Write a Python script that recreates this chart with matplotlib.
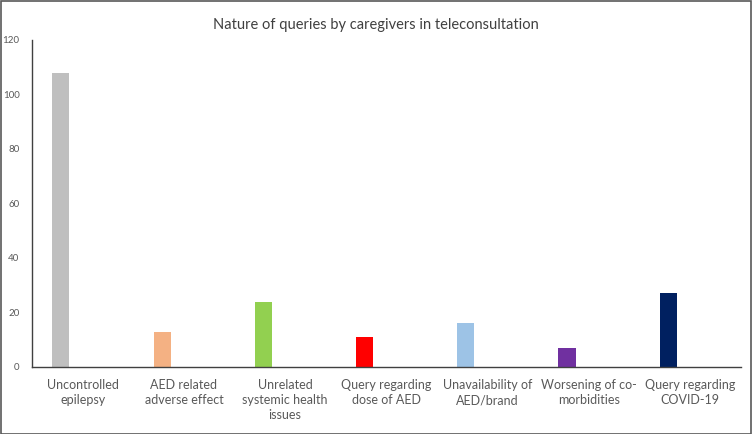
import matplotlib.pyplot as plt
from matplotlib.patches import Rectangle
import numpy as np

categories = [
    "Uncontrolled\nepilepsy",
    "AED related\nadverse effect",
    "Unrelated\nsystemic health\nissues",
    "Query regarding\ndose of AED",
    "Unavailability of\nAED/brand",
    "Worsening of co-\nmorbidities",
    "Query regarding\nCOVID-19",
]
counts = [108, 13, 24, 11, 16, 7, 27]
colors = ["#BFBFBF", "#F4B183", "#92D050", "#FF0000", "#9DC3E6", "#7030A0", "#002060"]
yticks = [0, 20, 40, 60, 80, 100, 120]

plt.rcParams['font.family'] = ['Lato', 'DejaVu Sans']
text_col = "#595959"

fig = plt.figure(figsize=(7.52, 4.34), dpi=100)
ax = fig.add_axes([0.0426, 0.1544, 0.9424, 0.7536])

x = np.arange(len(categories))
ax.bar(x - 0.215, counts, width=0.17, color=colors)

ax.set_xlim(-0.5, len(categories) - 0.5)
ax.set_ylim(0, 120)
ax.set_yticks(yticks)
ax.set_xticks(x)
ax.set_xticklabels(categories, fontsize=9, color=text_col, linespacing=1.3)
ax.tick_params(axis='y', labelsize=7, labelcolor=text_col, length=0, pad=9)
ax.tick_params(axis='x', length=0, pad=9)

for s in ['top', 'right']:
    ax.spines[s].set_visible(False)
for s in ['left', 'bottom']:
    ax.spines[s].set_color("#404040")
    ax.spines[s].set_linewidth(1.0)

fig.text(0.5, 0.942, "Nature of queries by caregivers in teleconsultation",
         ha='center', va='center', fontsize=10.5, color="#404040")

# outer frame
fig.patches.append(Rectangle((0.001, 0.001), 0.998, 0.997, transform=fig.transFigure,
                             fill=False, edgecolor="#595959", linewidth=1.2))

plt.savefig("out.png", dpi=100)
